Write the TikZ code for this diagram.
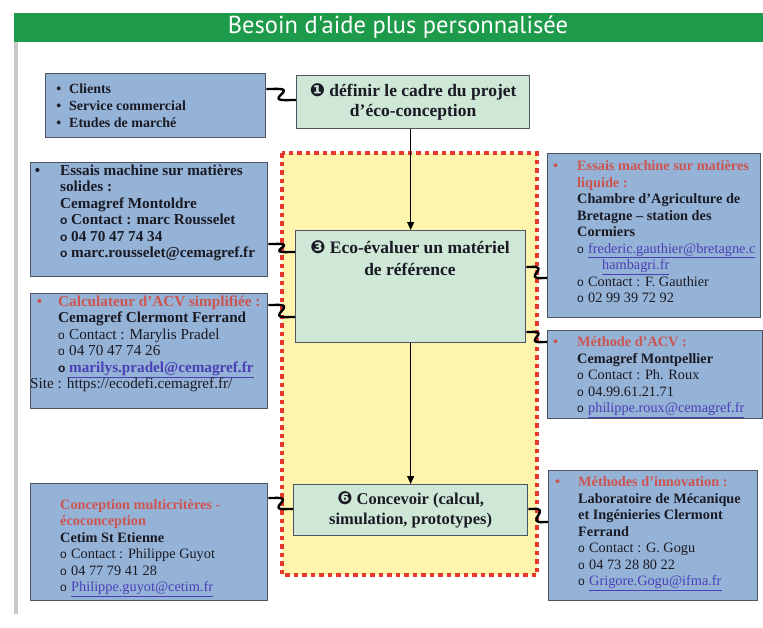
\documentclass[tikz,border=0pt]{standalone}
\usepackage{fontspec}
\setmainfont{Liberation Serif}
\newfontfamily\sansf{Liberation Sans}
\newfontfamily\djv{DejaVu Sans}
\newfontfamily\hdrf{PT Sans}
\usetikzlibrary{calc,arrows.meta}
\definecolor{hdrgreen}{HTML}{1E9B4A}
\definecolor{boxblue}{HTML}{95B3D7}
\definecolor{boxgreen}{HTML}{CFE7D6}
\definecolor{zoneyellow}{HTML}{FFF4AE}
\definecolor{zonered}{HTML}{E8382D}
\definecolor{redtxt}{HTML}{CC5550}
\definecolor{linkblue}{HTML}{4B3FB5}
\definecolor{bordergray}{HTML}{4F5560}
\definecolor{txt}{HTML}{1A1A24}
\definecolor{leftgray}{HTML}{C8C8C8}
\newcommand\mk{\makebox[11pt][l]{\sansf\fontsize{12}{12}\selectfont o}}
\newcommand\rd[1]{{\color{redtxt}#1}}
\newcommand\lnk[1]{{\color{linkblue}\underline{#1}}}
\newcommand\sidefont{\fontsize{14.3}{16.5}\selectfont\bfseries}
\newcommand\bigside{\fontsize{15.2}{16.4}\selectfont}
\newcommand\numf{\djv\fontsize{18}{18}\selectfont}
\tikzset{
  sidebox/.style={draw=bordergray, line width=1.3pt, fill=boxblue, inner sep=0pt, anchor=north west},
  stepbox/.style={draw=bordergray, line width=1.3pt, fill=boxgreen, inner sep=0pt, anchor=north west, text=txt},
  sidetext/.style={anchor=base west, inner sep=0pt, text=txt, font=\sidefont},
  wig/.style={draw=black, line width=2.4pt, line join=round, to path={let \p1=(\tikztostart), \p2=(\tikztotarget) in -- (\x1+0.2*\x2-0.2*\x1,\y1) .. controls (\x1+1.25*\x2-1.25*\x1,\y1-0.15*\y2+0.15*\y1) and (\x1-0.25*\x2+0.25*\x1,\y2+0.15*\y2-0.15*\y1) .. (\x1+0.8*\x2-0.8*\x1,\y2) -- (\tikztotarget)}},
  arr/.style={draw=black, line width=1.2pt, -{Triangle[length=8pt,width=7pt]}},
}
\begin{document}
\begin{tikzpicture}[x=1pt,y=-1pt]
\useasboundingbox (0,0) rectangle (763,627);
% left gray rule and header
\draw[leftgray, line width=4pt] (16,42) -- (16,614);
\fill[hdrgreen] (14,13) rectangle (763,42);
\node[text=white, font=\hdrf\fontsize{24.5}{28}\selectfont, inner sep=0pt] (title) at (398,27.5) {Besoin d'aide plus personnalisée};
% yellow zone
\draw[fill=zoneyellow, draw=zonered, line width=4.5pt, dash pattern=on 4.5pt off 4pt] (282,153) rectangle (537,575);
% boxes
\node[sidebox, minimum width=220pt, minimum height=64pt] (A) at (45,73) {};
\node[stepbox, minimum width=233pt, minimum height=53pt, align=center, font=\fontsize{17.5}{20}\selectfont\bfseries] (b1) at (296,75) {{\numf ❶} définir le cadre du projet\\ d'éco-conception};
\node[stepbox, minimum width=230pt, minimum height=112pt] (b3) at (295,230) {};
\node[stepbox, minimum width=234pt, minimum height=51pt, align=center, font=\fontsize{16.5}{20}\selectfont\bfseries] (b6) at (293,484) {{\numf ❻} Concevoir (calcul,\\ simulation, prototypes)};
\node[sidebox, minimum width=237pt, minimum height=114pt] (B) at (30,162) {};
\node[sidebox, minimum width=237pt, minimum height=115pt] (C) at (30,293) {};
\node[sidebox, minimum width=213pt, minimum height=164pt] (D) at (547,153) {};
\node[sidebox, minimum width=215pt, minimum height=88pt] (E) at (547,330) {};
\node[sidebox, minimum width=237pt, minimum height=117pt] (F) at (30,483) {};
\node[sidebox, minimum width=209pt, minimum height=130pt] (G) at (548,470) {};
% box 3 text
\node[anchor=base, inner sep=0pt, text=txt] (t3) at (410,253.5) {\parbox[t]{230pt}{\centering\fontsize{17.5}{22}\selectfont\bfseries {\numf ❸}\ Eco-évaluer un matériel\\ de référence}};
% side texts
\node[sidetext] (tA) at (69,93.5) {\parbox[t]{200pt}{\fontsize{14}{17}\selectfont\bfseries\leavevmode\llap{\textbullet\hspace{8pt}}Clients\\ \llap{\textbullet\hspace{8pt}}Service commercial\\ \llap{\textbullet\hspace{8pt}}Etudes de marché}};
\node[sidetext] (tB) at (60,175.5) {\parbox[t]{250pt}{\bigside\bfseries\leavevmode\llap{\textbullet\hspace{20pt}}Essais machine sur matières\\ solides :\\ Cemagref Montoldre\\ \mk Contact : marc Rousselet\\ \mk 04 70 47 74 34\\ \mk marc.rousselet@cemagref.fr}};
\node[sidetext] (tC) at (58,306.5) {\parbox[t]{250pt}{\bigside\bfseries\leavevmode\llap{\rd{\textbullet}\hspace{16pt}}\rd{Calculateur d'ACV simplifiée :}\\ Cemagref Clermont Ferrand\\ {\mdseries\mk Contact : Marylis Pradel}\\ {\mdseries\mk 04 70 47 74 26}\\ \mk\lnk{marilys.pradel@cemagref.fr}\\ \hspace*{-28pt}{\mdseries Site : https://ecodefi.cemagref.fr/}}};
\node[sidetext] (tD) at (577,170.5) {\parbox[t]{250pt}{\leavevmode\llap{\rd{\textbullet}\hspace{19pt}}\rd{Essais machine sur matières}\\ \rd{liquide :}\\ Chambre d'Agriculture de\\ Bretagne -- station des\\ Cormiers\\ {\mdseries\mk\lnk{frederic.gauthier@bretagne.c}}\\ {\mdseries\hspace*{25pt}\lnk{hambagri.fr}}\\ {\mdseries\mk Contact : F. Gauthier}\\ {\mdseries\mk 02 99 39 72 92}}};
\node[sidetext] (tE) at (577,346.5) {\parbox[t]{250pt}{\leavevmode\llap{\rd{\textbullet}\hspace{19pt}}\rd{Méthode d'ACV :}\\ Cemagref Montpellier\\ {\mdseries\mk Contact : Ph. Roux}\\ {\mdseries\mk 04.99.61.21.71}\\ {\mdseries\mk\lnk{philippe.roux@cemagref.fr}}}};
\node[sidetext] (tF) at (60,499.5) {\parbox[t]{250pt}{\rd{Conception multicritères -}\\ \rd{écoconception}\\ Cetim St Etienne\\ {\mdseries\mk Contact : Philippe Guyot}\\ {\mdseries\mk 04 77 79 41 28}\\ {\mdseries\mk\lnk{Philippe.guyot@cetim.fr}}}};
\node[sidetext] (tG) at (578,486.5) {\parbox[t]{250pt}{\leavevmode\llap{\rd{\textbullet}\hspace{18pt}}\rd{Méthodes d'innovation :}\\ Laboratoire de Mécanique\\ et Ingénieries Clermont\\ Ferrand\\ {\mdseries\mk Contact : G. Gogu}\\ {\mdseries\mk 04 73 28 80 22}\\ {\mdseries\mk\lnk{Grigore.Gogu@ifma.fr}}}};
% arrows
\draw[arr] (b3.north |- b1.south) -- (b3.north);
\draw[arr] (b3.south) -- (b3.south |- b6.north);
% wiggly connectors
\draw[wig] ([yshift=-16pt]A.north east) to ([yshift=-25pt]b1.north west);
\draw[wig] ([yshift=-82pt]B.north east) to ([yshift=-22pt]b3.north west);
\draw[wig] ([yshift=-12pt]C.north east) to ([yshift=-87pt]b3.north west);
\draw[wig] ([yshift=-37pt]b3.north east) to ([yshift=-125pt]D.north west);
\draw[wig] ([yshift=-102pt]b3.north east) to ([yshift=-12pt]E.north west);
\draw[wig] ([yshift=-15pt]F.north east) to ([yshift=-25pt]b6.north west);
\draw[wig] ([yshift=-25pt]b6.north east) to ([yshift=-52pt]G.north west);
\end{tikzpicture}
\end{document}
